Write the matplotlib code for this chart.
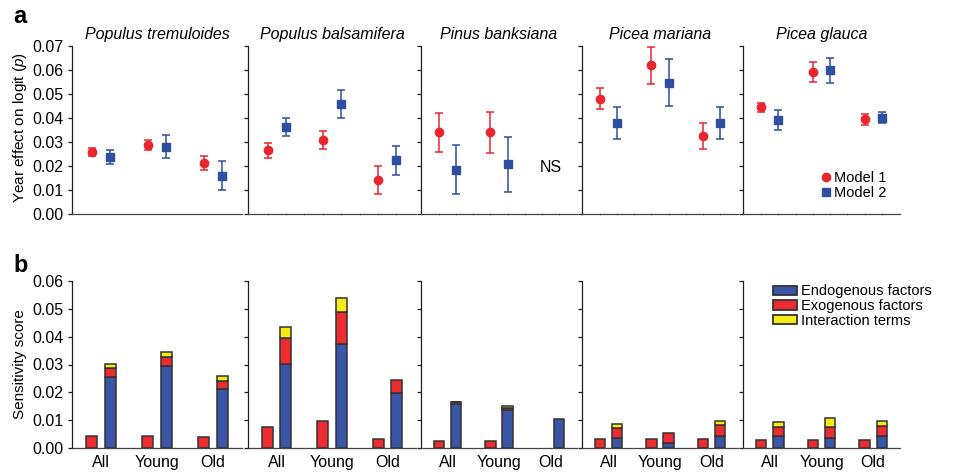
import numpy as np
import matplotlib
matplotlib.use('Agg')
import matplotlib.pyplot as plt
from matplotlib.lines import Line2D
from matplotlib.patches import Patch

plt.rcParams['font.family'] = ['Liberation Sans', 'DejaVu Sans']
plt.rcParams['mathtext.fontset'] = 'custom'
plt.rcParams['mathtext.it'] = 'Liberation Sans:italic'
plt.rcParams['mathtext.rm'] = 'Liberation Sans'

species = ['Populus tremuloides', 'Populus balsamifera', 'Pinus banksiana',
           'Picea mariana', 'Picea glauca']
groups = ['All', 'Young', 'Old']

# panel a: year effect, model 1 / model 2 (mean and half-width of error bar)
m1_mean = [[0.0260, 0.0288, 0.0212],
           [0.0265, 0.0308, 0.0142],
           [0.0340, 0.0340, np.nan],
           [0.0480, 0.0618, 0.0326],
           [0.0444, 0.0591, 0.0394]]
m1_err = [[0.0017, 0.0022, 0.0030],
          [0.0030, 0.0037, 0.0057],
          [0.0082, 0.0086, np.nan],
          [0.0044, 0.0076, 0.0054],
          [0.0020, 0.0040, 0.0023]]
m2_mean = [[0.0239, 0.0281, 0.0161],
           [0.0362, 0.0457, 0.0224],
           [0.0186, 0.0208, np.nan],
           [0.0380, 0.0547, 0.0380],
           [0.0391, 0.0598, 0.0401]]
m2_err = [[0.0029, 0.0047, 0.0062],
          [0.0038, 0.0059, 0.0061],
          [0.0102, 0.0115, np.nan],
          [0.0067, 0.0096, 0.0066],
          [0.0040, 0.0052, 0.0024]]

# panel b: sensitivity scores
m1_exo = [[0.0044, 0.0045, 0.0042],
          [0.0075, 0.0098, 0.0032],
          [0.0026, 0.0025, 0.0],
          [0.0032, 0.0032, 0.0033],
          [0.0029, 0.0030, 0.0031]]
endo = [[0.0257, 0.0296, 0.0211],
        [0.0302, 0.0372, 0.0197],
        [0.0157, 0.0138, 0.0104],
        [0.0037, 0.0019, 0.0043],
        [0.0045, 0.0036, 0.0044]]
exo = [[0.0029, 0.0032, 0.0029],
       [0.0092, 0.0115, 0.0048],
       [0.0007, 0.0008, 0.0],
       [0.0037, 0.0034, 0.0041],
       [0.0031, 0.0039, 0.0036]]
inter = [[0.0016, 0.0018, 0.0020],
         [0.0040, 0.0052, 0.0],
         [0.0003, 0.0005, 0.0],
         [0.0014, 0.0, 0.0014],
         [0.0018, 0.0034, 0.0019]]

RED = '#e9262e'
BLUE = '#2e4f9f'
BAR_BLUE = '#3a55a5'
BAR_RED = '#ee2b2f'
BAR_YEL = '#f6eb16'
EDGE = '#333333'
AX = '#231f20'

W, H = 976, 472
lefts = [72, 248, 421, 582, 743]
rights = [242, 416, 577, 738, 900]
a_top, a_bot = 45.7, 214.3
b_top, b_bot = 280.7, 448.3

fig = plt.figure(figsize=(W / 100, H / 100), dpi=100)
x = np.arange(len(groups))
off = 1 / 6


def style(ax, first):
    for s in ['top', 'right']:
        ax.spines[s].set_visible(False)
    ax.spines['left'].set_color(AX)
    ax.spines['bottom'].set_color('#444444')
    ax.spines['left'].set_linewidth(0.9)
    ax.spines['bottom'].set_linewidth(0.9)
    ax.tick_params(axis='y', direction='out', length=3, width=0.9, color=AX,
                   labelsize=11.5, pad=3.2, labelleft=first)
    ax.set_xlim(-0.52, 2.52)


for i, sp in enumerate(species):
    l, r = lefts[i] / W, rights[i] / W
    # panel a
    ax = fig.add_axes([l, 1 - a_bot / H, r - l, (a_bot - a_top) / H])
    style(ax, i == 0)
    ax.set_ylim(0, 0.07)
    ax.set_yticks(np.arange(0, 0.071, 0.01))
    ax.yaxis.set_major_formatter(matplotlib.ticker.FormatStrFormatter('%.2f'))
    ax.errorbar(x - off, m1_mean[i], yerr=m1_err[i], fmt='o', color=RED,
                ms=6, elinewidth=1.1, capsize=3.2, capthick=1.1)
    ax.errorbar(x + off, m2_mean[i], yerr=m2_err[i], fmt='s', color=BLUE,
                ms=5.5, elinewidth=1.1, capsize=3.2, capthick=1.1)
    ax.set_xticks([])
    if i > 0:
        ax.set_xticks(np.arange(-off, 2.4, 2 * off), minor=True)
        ax.tick_params(axis='x', which='minor', direction='inout', length=2,
                       width=0.6, color='#999999')
    ax.set_title(sp, fontsize=11.5, style='italic', pad=5)
    if i == 2:
        ax.text(2, 0.0193, 'NS', ha='center', va='center', fontsize=11.5)

    # panel b
    bx = fig.add_axes([l, 1 - b_bot / H, r - l, (b_bot - b_top) / H])
    style(bx, i == 0)
    bx.set_ylim(0, 0.06)
    bx.set_yticks(np.arange(0, 0.061, 0.01))
    bx.yaxis.set_major_formatter(matplotlib.ticker.FormatStrFormatter('%.2f'))
    kw = dict(width=0.2, edgecolor=EDGE, linewidth=1.1)
    e1 = np.array(m1_exo[i])
    bx.bar((x - off)[e1 > 0], e1[e1 > 0], color=BAR_RED, **kw)
    en, ex, it = np.array(endo[i]), np.array(exo[i]), np.array(inter[i])
    bx.bar(x + off, en, color=BAR_BLUE, **kw)
    m = ex > 0
    bx.bar((x + off)[m], ex[m], bottom=en[m], color=BAR_RED, **kw)
    m = it > 0
    bx.bar((x + off)[m], it[m], bottom=(en + ex)[m], color=BAR_YEL, **kw)
    bx.set_xticks(x)
    bx.set_xticklabels(groups)
    bx.tick_params(axis='x', length=0, labelsize=11.5, pad=5)

    if i == 4:
        h = [Line2D([], [], marker='o', color=RED, ls='none', ms=6),
             Line2D([], [], marker='s', color=BLUE, ls='none', ms=5.5)]
        ax.legend(h, ['Model 1', 'Model 2'], loc='upper left',
                  bbox_to_anchor=(820 / W, 1 - 171 / H),
                  bbox_transform=fig.transFigure, frameon=False, fontsize=10.5,
                  handlelength=0.8, handletextpad=0.15, borderpad=0,
                  borderaxespad=0, labelspacing=0.1)
        hb = [Patch(facecolor=c, edgecolor=EDGE, linewidth=1.3)
              for c in [BAR_BLUE, BAR_RED, BAR_YEL]]
        bx.legend(hb, ['Endogenous factors', 'Exogenous factors',
                       'Interaction terms'], loc='upper left',
                  bbox_to_anchor=(773 / W, 1 - 284.5 / H),
                  bbox_transform=fig.transFigure, frameon=False, fontsize=10.5,
                  handlelength=1.65, handleheight=0.6, handletextpad=0.27,
                  borderpad=0, borderaxespad=0, labelspacing=0.05)

fig.text(20 / W, 1 - 127 / H, r'Year effect on logit ($\it{p}$)', rotation=90,
         ha='center', va='center', fontsize=11)
fig.text(20 / W, 1 - 364 / H, 'Sensitivity score', rotation=90,
         ha='center', va='center', fontsize=11)
fig.text(13 / W, 1 - 23 / H, 'a', fontsize=17, fontweight='bold', va='baseline')
fig.text(13 / W, 1 - 272 / H, 'b', fontsize=17, fontweight='bold', va='baseline')

fig.savefig('out.png', dpi=100)
